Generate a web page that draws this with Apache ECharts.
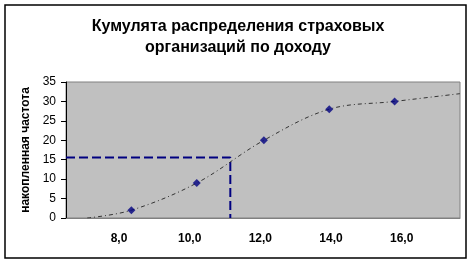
<!DOCTYPE html>
<html>
<head>
<meta charset="utf-8">
<script src="https://cdn.jsdelivr.net/npm/echarts@6/dist/echarts.min.js"></script>
<style>html,body{margin:0;padding:0;background:#fff}#c{width:476px;height:265px}</style>
</head>
<body>
<div id="c"></div>
<script>
// Data
const titleText = 'Кумулята распределения страховых\nорганизаций по доходу';
const yAxisName = 'накопленная частота';
const pointX = [8.35, 10.2, 12.1, 13.95, 15.8];
const pointY = [2, 9, 20, 28, 30];
const curveX = [7.1, 8.35, 10.2, 12.1, 13.95, 15.8, 17.65];
const curveY = [0, 2, 9, 20, 28, 30, 32];
const medianLevel = 15.6;
const medianValue = 11.15;
const xLabelValues = [8, 10, 12, 14, 16];
const xMin = 6.5, xMax = 17.65;
const yMin = 0, yMax = 35, yStep = 5;

const chart = echarts.init(document.getElementById('c'), null, {renderer: 'canvas'});
const font = '"Liberation Sans", Arial, sans-serif';
chart.setOption({
  animation: false,
  title: {
    text: titleText, left: 'center', top: 11,
    textStyle: {fontFamily: font, fontSize: 16, fontWeight: 'bold', color: '#000', lineHeight: 21}
  },
  graphic: [{
    type: 'rect', shape: {x: 5, y: 5, width: 461, height: 253},
    style: {fill: 'none', stroke: '#000', lineWidth: 1.5}, z: 100, silent: true
  }],
  grid: {left: 66, right: 16, top: 82, bottom: 47, show: true, backgroundColor: '#C0C0C0', borderColor: '#808080', borderWidth: 1},
  xAxis: {
    type: 'value', min: xMin, max: xMax, interval: 0.5,
    axisLine: {show: true, lineStyle: {color: '#808080', width: 1}},
    axisTick: {show: false}, splitLine: {show: false},
    axisLabel: {
      margin: 15, fontFamily: font, fontSize: 12, fontWeight: 'bold', color: '#000',
      showMinLabel: true, showMaxLabel: true,
      formatter: v => xLabelValues.some(t => Math.abs(t - v) < 1e-6) ? v.toFixed(1).replace('.', ',') : ''
    }
  },
  yAxis: {
    type: 'value', min: yMin, max: yMax, interval: yStep,
    name: yAxisName, nameLocation: 'middle', nameGap: 31, nameRotate: 90,
    nameTextStyle: {fontFamily: font, fontSize: 12, fontWeight: 'bold', color: '#000'},
    axisLine: {show: true, lineStyle: {color: '#000', width: 1}},
    axisTick: {show: true, inside: false, length: 5, lineStyle: {color: '#000'}},
    splitLine: {show: false},
    axisLabel: {margin: 10, fontFamily: font, fontSize: 12, color: '#000'}
  },
  series: [
    {
      type: 'line', data: [[xMin, medianLevel], [medianValue, medianLevel], [medianValue, 0]],
      showSymbol: false, lineStyle: {color: '#000080', width: 2, type: [9, 4]}, z: 2
    },
    {
      type: 'line', data: curveX.map((x, i) => [x, curveY[i]]), smooth: 0.35,
      showSymbol: false, lineStyle: {color: '#333', width: 1, type: [4, 3, 1, 3]}, z: 3
    },
    {
      type: 'scatter', data: pointX.map((x, i) => [x, pointY[i]]),
      symbol: 'diamond', symbolSize: 8, itemStyle: {color: '#000080'}, z: 4
    }
  ]
});
</script>
</body>
</html>
